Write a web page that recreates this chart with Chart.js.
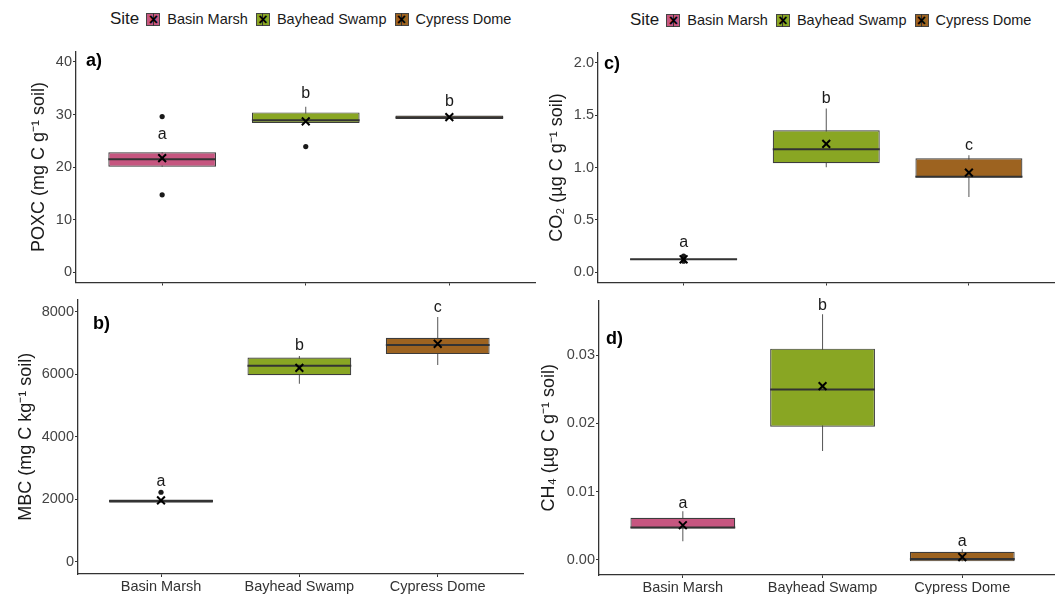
<!DOCTYPE html>
<html>
<head>
<meta charset="utf-8">
<script src="https://cdn.jsdelivr.net/npm/chart.js@4.4.1/dist/chart.umd.min.js"></script>
<style>
  body { margin: 0; background: #fff; width: 1062px; height: 594px; position: relative; overflow: hidden;
         font-family: "Liberation Sans", Arial, sans-serif; }
  canvas { position: absolute; background: #fff; }
  .legend { position: absolute; display: flex; align-items: center; color: #1a1a1a; font-size: 14.5px;
            white-space: nowrap; line-height: 20px; }
  .legend .ttl { font-size: 17px; margin-right: 7px; }
  .key { width: 14px; height: 13px; box-sizing: border-box; border: 1px solid #444; margin-right: 7px; position: relative; }
  .key::before { content: ''; position: absolute; left: 5.5px; top: -1px; bottom: -1px; width: 1px; background: #333; }
  .key::after { content: '\00d7'; position: absolute; left: 0; right: 0; top: -4px; text-align: center;
                font-weight: bold; font-size: 16px; color: #000; }
  .lab { margin-right: 8px; }
</style>
</head>
<body>
<div class="legend" id="legL" style="left:110px;top:9px"></div>
<div class="legend" id="legR" style="left:630px;top:10px"></div>
<canvas id="cA" width="543" height="246" style="left:0;top:44px"></canvas>
<canvas id="cB" width="531" height="302" style="left:0;top:292px"></canvas>
<canvas id="cD" width="531" height="301" style="left:531px;top:293px"></canvas>
<canvas id="cC" width="524" height="245" style="left:538px;top:45px"></canvas>
<script>
// --- datos ---
const sites = ['Basin Marsh', 'Bayhead Swamp', 'Cypress Dome'];
const siteColors = ['#C65680', '#89A623', '#9D6320'];

// caja por sitio: [bigote inf, Q1, mediana, Q3, bigote sup]
const poxcBoxes = [[20.05, 20.05, 21.5, 22.8, 22.8], [28.4, 28.4, 28.9, 30.4, 31.5], [29.15, 29.15, 29.45, 29.8, 29.8]];
const poxcMeans = [21.7, 28.7, 29.5];
const poxcOutliers = [[29.6, 14.7], [23.9], []];
const poxcLetters = ['a', 'b', 'b'];
const poxcLetterY = [26.2, 33.9, 32.5];
const poxcTicks = [0, 10, 20, 30, 40];

const mbcBoxes = [[1885, 1885, 1940, 1990, 1990], [5700, 5970, 6280, 6540, 6590], [6300, 6650, 6940, 7170, 7840]];
const mbcMeans = [1960, 6210, 6980];
const mbcOutliers = [[2220], [], []];
const mbcLetters = ['a', 'b', 'c'];
const mbcLetterY = [2560, 6930, 8125];
const mbcTicks = [0, 2000, 4000, 6000, 8000];

const co2Boxes = [[0.118, 0.118, 0.122, 0.126, 0.126], [1.003, 1.04, 1.174, 1.357, 1.565], [0.719, 0.905, 0.912, 1.089, 1.116]];
const co2Means = [0.122, 1.226, 0.951];
const co2Outliers = [[0.152, 0.140, 0.104], [], []];
const co2Letters = ['a', 'b', 'c'];
const co2LetterY = [0.284, 1.656, 1.208];
const co2Ticks = [0, 0.5, 1, 1.5, 2];

const ch4Boxes = [[0.00276, 0.00461, 0.00476, 0.00619, 0.00714], [0.01595, 0.0195, 0.02495, 0.03095, 0.0360], [-0.0002, -0.0002, 0.00014, 0.00119, 0.00157]];
const ch4Means = [0.00509, 0.02547, 0.00043];
const ch4Outliers = [[], [], []];
const ch4Letters = ['a', 'b', 'a'];
const ch4LetterY = [0.00823, 0.03719, 0.00276];
const ch4Ticks = [0, 0.01, 0.02, 0.03];

Chart.defaults.font.family = '"Liberation Sans", Arial, sans-serif';
Chart.defaults.animation = false;

// leyendas (HTML)
function buildLegend(el) {
  el.innerHTML = '<span class="ttl">Site</span>' +
    sites.map((s, i) => `<span class="key" style="background:${siteColors[i]}"></span><span class="lab">${s}</span>`).join('');
}
buildLegend(document.getElementById('legL'));
buildLegend(document.getElementById('legR'));

// letras de significancia + etiqueta del panel
const letterPlugin = {
  id: 'sigLetters',
  afterDatasetsDraw(chart, args, o) {
    const { ctx, chartArea, scales: { x, y } } = chart;
    ctx.save();
    ctx.fillStyle = '#1a1a1a';
    ctx.textAlign = 'center';
    ctx.textBaseline = 'middle';
    ctx.font = '16px "Liberation Sans", Arial, sans-serif';
    o.letters.forEach((t, i) => ctx.fillText(t, x.getPixelForValue(i + 1), y.getPixelForValue(o.letterY[i])));
    ctx.textAlign = 'left';
    ctx.fillStyle = '#000';
    ctx.font = 'bold 18px "Liberation Sans", Arial, sans-serif';
    ctx.fillText(o.tag, chartArea.left + o.tagDx, chartArea.top + o.tagDy);
    ctx.restore();
  }
};

function boxPanel(id, cfg) {
  const halfBox = c => {
    const s = c.chart.scales.x;
    return s.getPixelForValue(1.375) - s.getPixelForValue(1);
  };
  const outlierPts = [];
  cfg.outliers.forEach((arr, i) => arr.forEach(v => outlierPts.push({ x: i + 1, y: v })));
  const axisGrid = { display: true, offset: false, drawOnChartArea: false, drawTicks: true, tickLength: 3, color: '#333', tickWidth: 1 };
  const axisBorder = { display: true, color: '#333', width: 1.3 };

  return new Chart(document.getElementById(id), {
    type: 'bar',
    data: {
      datasets: [
        { // bigotes
          type: 'bar', data: cfg.boxes.map((b, i) => ({ x: i + 1, y: [b[0], b[4]] })),
          backgroundColor: '#555', maxBarThickness: 1, grouped: false, order: 4
        },
        { // cajas
          type: 'bar', data: cfg.boxes.map((b, i) => ({ x: i + 1, y: [b[1], b[3]] })),
          backgroundColor: siteColors, borderColor: '#3c3c3c', borderWidth: 1.2,
          borderSkipped: false, barPercentage: 0.75, categoryPercentage: 1, grouped: false, order: 3
        },
        { // medianas
          type: 'scatter', data: cfg.boxes.map((b, i) => ({ x: i + 1, y: b[2] })),
          pointStyle: 'line', pointRadius: halfBox, pointHoverRadius: halfBox,
          pointBorderColor: '#333', pointBorderWidth: 2, order: 2
        },
        { // atípicos
          type: 'scatter', data: outlierPts, pointStyle: 'circle', pointRadius: 2.6,
          pointBackgroundColor: '#1a1a1a', pointBorderWidth: 0, order: 1
        },
        { // medias
          type: 'scatter', data: cfg.means.map((m, i) => ({ x: i + 1, y: m })),
          pointStyle: 'crossRot', pointRadius: 5.5, pointBorderColor: '#000', pointBorderWidth: 2, order: 0
        }
      ]
    },
    options: {
      responsive: false,
      devicePixelRatio: 1,
      layout: { padding: 0 },
      plugins: {
        legend: { display: false },
        tooltip: { enabled: false },
        sigLetters: { letters: cfg.letters, letterY: cfg.letterY, tag: cfg.tag, tagDx: cfg.tagDx, tagDy: cfg.tagDy }
      },
      scales: {
        x: {
          type: 'linear', min: 0.4, max: cfg.xMax, offset: false,
          afterBuildTicks: s => { s.ticks = sites.map((_, i) => ({ value: i + 1 })); },
          afterFit: s => { s.height = cfg.xH; s.paddingLeft = 0; s.paddingRight = 0; },
          ticks: { display: cfg.showX, padding: 1, color: '#333', font: { size: 14.5 }, callback: v => sites[v - 1] },
          grid: axisGrid,
          border: axisBorder
        },
        y: {
          type: 'linear', min: cfg.yMin, max: cfg.yMax,
          afterBuildTicks: s => { s.ticks = cfg.ticks.map(v => ({ value: v })); },
          afterFit: s => { s.width = cfg.yW; s.paddingTop = 0; s.paddingBottom = 0; },
          ticks: { padding: 1, color: '#444', font: { size: 14.5 }, callback: v => v.toFixed(cfg.dec) },
          grid: axisGrid,
          border: axisBorder,
          title: { display: true, text: cfg.title, color: '#1a1a1a', font: { size: 18 }, padding: { top: cfg.titlePad, bottom: 0 } }
        }
      }
    },
    plugins: [letterPlugin]
  });
}

boxPanel('cA', {
  boxes: poxcBoxes, means: poxcMeans, outliers: poxcOutliers, letters: poxcLetters, letterY: poxcLetterY,
  ticks: poxcTicks, dec: 0, yMin: -2, yMax: 42, xMax: 3.6, yW: 76, xH: 4, showX: false,
  title: 'POXC (mg C g\u207B\u00B9 soil)', titlePad: 28, tag: 'a)', tagDx: 10, tagDy: 10
});
boxPanel('cB', {
  boxes: mbcBoxes, means: mbcMeans, outliers: mbcOutliers, letters: mbcLetters, letterY: mbcLetterY,
  ticks: mbcTicks, dec: 0, yMin: -400, yMax: 8400, xMax: 3.62, yW: 78, xH: 20, showX: true,
  title: 'MBC (mg C kg\u207B\u00B9 soil)', titlePad: 15, tag: 'b)', tagDx: 15, tagDy: 25
});
boxPanel('cC', {
  boxes: co2Boxes, means: co2Means, outliers: co2Outliers, letters: co2Letters, letterY: co2LetterY,
  ticks: co2Ticks, dec: 1, yMin: -0.1, yMax: 2.1, xMax: 3.6, yW: 60, xH: 4, showX: false,
  title: 'CO\u2082 (\u00B5g C g\u207B\u00B9 soil)', titlePad: 8, tag: 'c)', tagDx: 6, tagDy: 12
});
boxPanel('cD', {
  boxes: ch4Boxes, means: ch4Means, outliers: ch4Outliers, letters: ch4Letters, letterY: ch4LetterY,
  ticks: ch4Ticks, dec: 2, yMin: -0.0022, yMax: 0.038, xMax: 3.66, yW: 68, xH: 19, showX: true,
  title: 'CH\u2084 (\u00B5g C g\u207B\u00B9 soil)', titlePad: 7, tag: 'd)', tagDx: 7, tagDy: 39
});
</script>
</body>
</html>
